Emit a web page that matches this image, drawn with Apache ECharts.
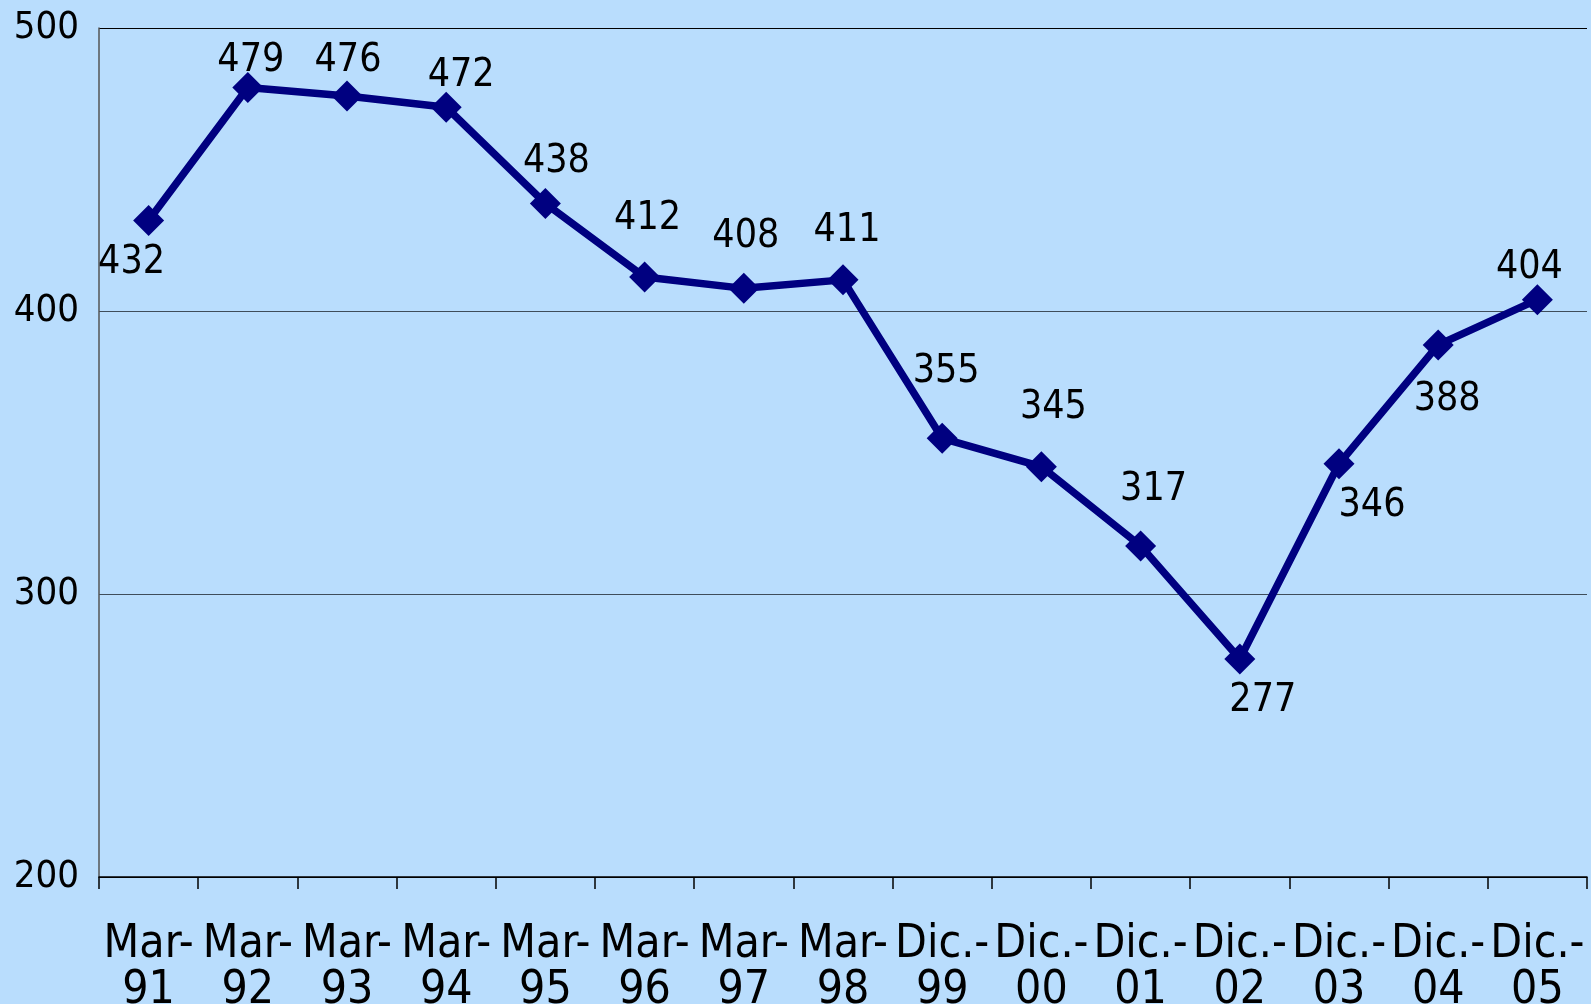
<!DOCTYPE html>
<html>
<head>
<meta charset="utf-8">
<script src="https://cdn.jsdelivr.net/npm/echarts@6/dist/echarts.min.js"></script>
<style>
  html, body { margin: 0; padding: 0; background: #b9ddfd; overflow: hidden; }
  #chart { width: 1591px; height: 1004px; }
</style>
</head>
<body>
<div id="chart"></div>
<script>
const categories = ['Mar-\n91', 'Mar-\n92', 'Mar-\n93', 'Mar-\n94', 'Mar-\n95', 'Mar-\n96', 'Mar-\n97', 'Mar-\n98',
  'Dic.-\n99', 'Dic.-\n00', 'Dic.-\n01', 'Dic.-\n02', 'Dic.-\n03', 'Dic.-\n04', 'Dic.-\n05']
const values = [432, 479, 476, 472, 438, 412, 408, 411, 355, 345, 317, 277, 346, 388, 404]
const yTicks = [200, 300, 400, 500]

// label placement around each point (label centre relative to marker)
const labelOffsets = [[-17, 42], [3, -27], [1, -35], [15, -31], [11, -42], [3, -58], [2, -51], [4, -49],
  [4, -66], [12, -59], [13, -56], [23, 42], [33, 42], [9, 55], [-8, -32]]

const font = "'DejaVu Sans Condensed', 'DejaVu Sans', sans-serif"
const chart = echarts.init(document.getElementById('chart'))

chart.setOption({
  backgroundColor: '#b9ddfd',
  animation: false,
  grid: { left: 99, top: 28, right: 4, bottom: 127, outerBoundsMode: 'none', containLabel: false },
  xAxis: {
    type: 'category',
    data: categories,
    boundaryGap: true,
    axisLine: { lineStyle: { color: '#000', width: 1.5 } },
    axisTick: { show: true, length: 12, lineStyle: { color: '#000', width: 1.5 } },
    axisLabel: {
      color: '#000',
      fontFamily: font,
      fontSize: 46,
      lineHeight: 46,
      margin: 45,
      interval: 0,
      hideOverlap: false
    }
  },
  yAxis: {
    type: 'value',
    min: yTicks[0],
    max: yTicks[yTicks.length - 1],
    interval: 100,
    axisLine: { show: true, lineStyle: { color: '#555', width: 1.5 } },
    axisTick: { show: false },
    splitLine: { lineStyle: { color: ['#000', '#3f4d5a', '#3f4d5a', '#000'], width: 1.2 } },
    axisLabel: {
      color: '#000',
      fontFamily: font,
      fontSize: 38,
      margin: 20
    }
  },
  series: [{
    type: 'line',
    data: values.map((v, i) => ({
      value: v,
      label: { offset: labelOffsets[i] }
    })),
    symbol: 'diamond',
    symbolSize: 31,
    lineStyle: { color: '#000080', width: 7.5 },
    itemStyle: { color: '#000080' },
    label: {
      show: true,
      position: 'inside',
      color: '#000',
      fontFamily: font,
      fontSize: 39,
      align: 'center',
      verticalAlign: 'middle'
    }
  }]
})
</script>
</body>
</html>
